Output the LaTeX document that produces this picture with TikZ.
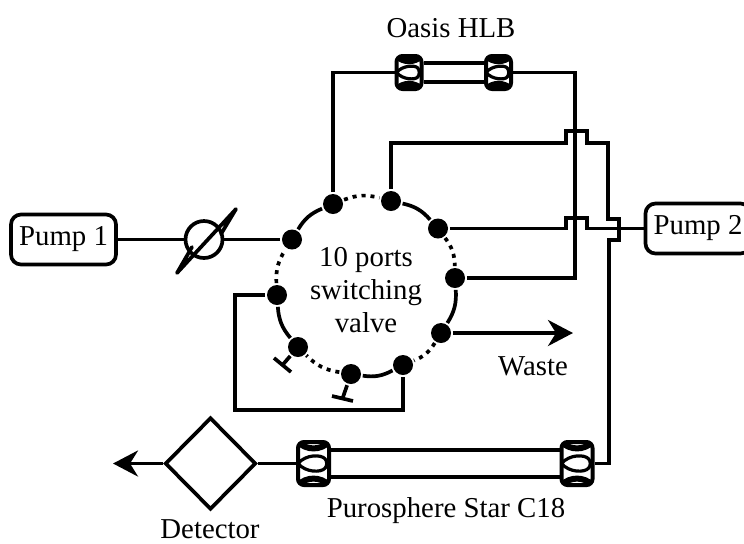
\documentclass[tikz,border=0pt]{standalone}
\usepackage{fontspec}
\setmainfont{Liberation Serif}
\usepackage{tikz}
\usetikzlibrary{arrows.meta}
\usetikzlibrary{shapes.geometric}

\tikzset{
        pump/.style={draw,rounded corners=5pt,minimum width=52.5pt,minimum height=25pt,inner sep=0pt},
        port/.style={circle,fill=black,minimum size=10pt,inner sep=0pt},
        dots/.style={dash pattern=on 2pt off 2.5pt},
        fitting/.style={draw,fill=white,rounded corners=3pt,inner sep=0pt,line width=2pt,path picture={
                \draw[line width=3pt] (path picture bounding box.north west) to[bend right=45] (path picture bounding box.north east);
                \draw[line width=3pt] (path picture bounding box.south west) to[bend left=45] (path picture bounding box.south east);
                \draw[line width=1.6pt] (path picture bounding box.west) to[bend left=50] (path picture bounding box.east) to[bend left=50] (path picture bounding box.west);
        }},
        smallfit/.style={fitting,minimum width=12.5pt,minimum height=16.5pt},
        bigfit/.style={fitting,minimum width=15.5pt,minimum height=21.5pt},
        flow/.style={-{Stealth[length=12.5pt,width=13pt,inset=4pt]}},
}

\begin{document}
\begin{tikzpicture}[x=0.5pt,y=-0.5pt,line width=1.85pt,every node/.style={font=\fontsize{14.4}{16.5}\selectfont}]
        \useasboundingbox (0,0) rectangle (744,543);
        \clip (0,0) rectangle (744,543);
        % valve ports, clockwise
        \node[port] (portA) at (333,204) {};
        \node[port] (portB) at (391,201) {};
        \node[port] (portC) at (438,228.5) {};
        \node[port] (portD) at (455,278) {};
        \node[port] (portE) at (441,333) {};
        \node[port] (portF) at (403,365) {};
        \node[port] (portG) at (351,374) {};
        \node[port] (portH) at (298,347) {};
        \node[port] (portI) at (277,295) {};
        \node[port] (portJ) at (292,239.5) {};
        \draw (portJ) to[bend left=18] (portA);
        \draw[dots] (portA) to[bend left=18] (portB);
        \draw (portB) to[bend left=18] (portC);
        \draw[dots] (portC) to[bend left=18] (portD);
        \draw (portD) to[bend left=18] (portE);
        \draw[dots] (portE) to[bend left=18] (portF);
        \draw (portF) to[bend left=18] (portG);
        \draw[dots] (portG) to[bend left=18] (portH);
        \draw (portH) to[bend left=18] (portI);
        \draw[dots] (portI) to[bend left=18] (portJ);
        \node[align=center] (valve) at (366,290) {10 ports\\switching\\valve};
        % pumps and check valve
        \node[pump] (pumpOne) at (63.5,239.5) {Pump 1};
        \node[pump] (pumpTwo) at (698,228.5) {Pump 2};
        \node[circle,draw,minimum size=18.5pt,inner sep=0pt] (check) at (204,239.5) {};
        \draw (pumpOne) -- (check);
        \draw (check) -- (portJ);
        \coordinate (checkLow) at (177,273);
        \coordinate (checkHigh) at (236,209);
        \draw[line join=round,line cap=round] (192,247) -- (checkLow) -- (checkHigh) -- (221,234);
        % Oasis column
        \node[smallfit] (hlbLeft) at (409,72.5) {};
        \node[smallfit] (hlbRight) at (498.5,72.5) {};
        \draw ([yshift=4.7pt]hlbLeft.east) -- ([yshift=4.7pt]hlbRight.west);
        \draw ([yshift=-4.7pt]hlbLeft.east) -- ([yshift=-4.7pt]hlbRight.west);
        \node (hlbName) at (451,28) {Oasis HLB};
        \draw (portA) |- (hlbLeft);
        \draw (hlbRight) -| (575,278) -- (portD);
        % C18 column and detector
        \node[bigfit] (bigLeft) at (313.5,463.5) {};
        \node[bigfit] (bigRight) at (577,463.5) {};
        \draw ([yshift=6.7pt]bigLeft.east) -- ([yshift=6.7pt]bigRight.west);
        \draw ([yshift=-6.7pt]bigLeft.east) -- ([yshift=-6.7pt]bigRight.west);
        \node (bigName) at (446,511) {Purosphere Star C18};
        \node[diamond,draw,minimum width=45.5pt,minimum height=46pt,inner sep=0pt] (detector) at (210.5,463.5) {};
        \node[inner sep=0pt] (detectorName) at (210,529) {Detector};
        \draw (detector) -- (bigLeft);
        \coordinate (outlet) at (113,463.5);
        \draw[flow] (detector) -- (outlet);
        % crossings
        \draw (portB) |- (566,143) -- (566,131) -- (587,131) -- (587,143) -- (608,143) -- (608,219) -- (619,219) -- (619,240) -- (609,240) |- (bigRight);
        \draw (portC) -- (566,228.5) -- (566,218) -- (587,218) -- (587,228.5) -- (pumpTwo);
        \draw[flow] (portE) -- (573,333);
        \node (waste) at (533,366) {Waste};
        % loop and plugged ports
        \draw (portI) -| (235,410) -| (portF);
        \draw (274,358) -- (291,372);
        \draw (portH) -- (282.5,365);
        \draw (332,396) -- (353,401);
        \draw (portG) -- (342.5,398.5);
    \end{tikzpicture}
\end{document}
